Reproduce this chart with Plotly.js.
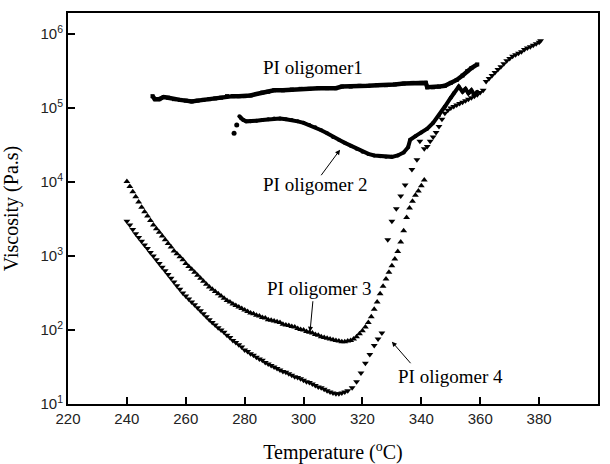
<!DOCTYPE html>
<html>
<head>
<meta charset="utf-8">
<script src="https://cdn.plot.ly/plotly-3.0.1.min.js"></script>
<style>html,body{margin:0;padding:0;background:#fff;}#chart{width:610px;height:464px;}.modebar-container{visibility:hidden !important;}</style>
</head>
<body>
<div id="chart"></div>
<script>
// PI oligomer 1 (squares)
const t1 = [248.7,249.5,251,252.5,254,256,258,260,262,264,266,268,270,272,274,276,278,280,282,284,286,288,290,293,296,299,302,305,308,311,313,316,319,322,325,328,331,334,337,340,341.5,342,344,346,348,350,352,354,355.6,357,359];
const v1 = [145000,132000,132000,141000,138000,132000,129000,126000,123000,126000,129000,132000,135000,138000,145000,145000,145000,145000,148000,155000,162000,166000,174000,174000,178000,182000,182000,186000,186000,186000,195000,195000,200000,200000,204000,204000,209000,214000,219000,219000,219000,191000,191000,195000,200000,219000,240000,275000,316000,347000,389000];

// PI oligomer 2 (circles)
const t2 = [276.4,277.3,278.2,278.8,279.5,280.5,282,284,286,288,290,292,294,296,298,300,302,304,306,308,310,312,314,316,318,320,322,324,326,328,330,332,334,335.5,336.2,338,340,342,344,346,348,350,351,352.7,354,355,356,357,358,359];
const v2 = [45700,58900,77600,72400,69200,66100,66100,67600,69200,70800,72400,72400,70800,69200,66100,63100,58900,55000,50100,45700,40700,37200,33900,30900,28200,25700,24000,22900,22400,21900,21900,22900,25100,29500,37200,41700,46800,52500,63100,79400,105000,138000,158000,195000,166000,182000,158000,174000,151000,166000];

// PI oligomer 3 (up triangles)
const t3 = [240,241,242,243,244,245,246,247,248,249,250,251,252,253,254,255,256,257,258,259,260,261,262,263,264,265,266,267,268,269,270,271,272,273,274,275,276,277,278,279,280,281,282,283,284,285,286,287,288,289,290,291,292,293,294,295,296,297,298,299,300,301,302,303,304,305,306,307,308,309,310,311,312,313,314,315,316,317,318,319,320,321,322,323,324,325,326,327,328,329,330,331,332,333,334,335,336,337,338,339,340,341];
const v3 = [10200,8710,7410,6310,5370,4570,3980,3470,3020,2630,2340,2090,1860,1660,1480,1320,1170,1070,977,891,794,724,661,603,550,501,457,417,380,355,331,309,288,269,251,240,224,214,204,195,186,178,170,166,158,155,148,145,138,135,132,129,126,120,117,115,112,110,105,102,100,95.5,93.3,91.2,87.1,85.1,81.3,79.4,77.6,75.9,74.1,72.4,70.8,69.2,69.2,70.8,72.4,75.9,81.3,89.1,97.7,110,126,151,191,240,309,389,490,603,741,912,1150,1550,2190,3310,4470,5500,6610,7590,8910,10700];

// PI oligomer 4 (down triangles)
const t4 = [240,241,242,243,244,245,246,247,248,249,250,251,252,253,254,255,256,257,258,259,260,261,262,263,264,265,266,267,268,269,270,271,272,273,274,275,276,277,278,279,280,281,282,283,284,285,286,287,288,289,290,291,292,293,294,295,296,297,298,299,300,301,302,303,304,305,306,307,308,309,310,311,312,313,314,315,316.5,318,319.5,321,322.5,324,325.3,326.6,328.6,330,331.5,333,334.5,336.8,338.5,339.5,341,342,343,344,345,346,347,348,349,350,351,352,353,354,355,356,357,358,359,360,361,362,363,364,365,366,367,368,369,370,371,372,373,374,375,376,377,378,379,380,380.5];
const v4 = [2950,2630,2290,2000,1780,1580,1410,1260,1120,1000,891,794,708,631,562,501,447,398,355,316,288,263,240,219,200,182,166,151,138,126,117,107,100,93.3,85.1,79.4,72.4,67.6,63.1,58.9,53.7,51.3,47.9,45.7,42.7,40.7,38.9,36.3,34.7,33.1,31.6,30.2,28.8,27.5,26.9,25.7,24.5,23.4,22.9,21.9,20.9,20.0,19.5,18.6,17.8,17.0,16.6,15.8,15.1,14.5,14.1,13.8,13.8,14.1,14.5,15.1,16.6,20.0,26.3,35.5,46.8,61.7,75.9,91.2,1660,2950,4370,6460,9120,14800,20000,35500,28200,30200,35500,40700,46800,56200,70800,85100,93300,100000,105000,110000,115000,120000,126000,132000,138000,145000,151000,162000,174000,229000,251000,275000,302000,331000,363000,398000,437000,468000,501000,525000,550000,575000,617000,646000,676000,708000,741000,776000,813000];

// axis ticks
const xTicks = [220,240,260,280,300,320,340,360,380,400];
const xMinorTicks = [230,250,270,290,310,330,350,370,390];
const yTicks = [10,100,1000,10000,100000,1000000];
const yTickText = ['10<sup>1</sup>','10<sup>2</sup>','10<sup>3</sup>','10<sup>4</sup>','10<sup>5</sup>','10<sup>6</sup>'];
const yMinorTicks = [20,30,40,50,60,70,80,90,200,300,400,500,600,700,800,900,2000,3000,4000,5000,6000,7000,8000,9000,20000,30000,40000,50000,60000,70000,80000,90000,200000,300000,400000,500000,600000,700000,800000,900000,2000000,3000000,4000000,5000000,6000000,7000000,8000000,9000000];

const serif = 'Liberation Serif, Times New Roman, serif';
const sans = 'Liberation Sans, Arial, sans-serif';

const traces = [
  {x: t1, y: v1, mode: 'lines+markers', line: {color: '#000', width: 4.5},
   marker: {symbol: 'square', size: 4, color: '#000'}, name: 'PI oligomer1', showlegend: false},
  {x: t2.slice(0, 2), y: v2.slice(0, 2), mode: 'markers',
   marker: {symbol: 'circle', size: 5, color: '#000'}, name: 'PI oligomer 2', showlegend: false},
  {x: t2.slice(2), y: v2.slice(2), mode: 'lines+markers', line: {color: '#000', width: 4},
   marker: {symbol: 'circle', size: 4, color: '#000'}, name: 'PI oligomer 2', showlegend: false},
  {x: t3, y: v3, mode: 'markers', marker: {symbol: 'triangle-up', size: 6, color: '#000'}, name: 'PI oligomer 3', showlegend: false},
  {x: t4, y: v4, mode: 'markers', marker: {symbol: 'triangle-down', size: 6, color: '#000'}, name: 'PI oligomer 4', showlegend: false}
];

const annFont = {family: serif, size: 19, color: '#000'};
const yRange = [1, 6.285];
const layout = {
  width: 610, height: 464,
  margin: {l: 68, r: 12, t: 13, b: 60},
  xaxis: {
    range: [220, 400], tickvals: xTicks, ticktext: xTicks.map(String),
    ticks: 'inside', ticklen: 7, tickwidth: 2, tickcolor: '#000',
    showline: true, linecolor: '#000', linewidth: 2, mirror: true,
    showgrid: false, zeroline: false,
    tickfont: {family: sans, size: 15, color: '#222'},
    title: {text: 'Temperature (<sup>o</sup>C)', font: {family: serif, size: 20, color: '#000'}}
  },
  xaxis2: {
    overlaying: 'x', anchor: 'y', side: 'bottom', range: [220, 400],
    tickvals: xMinorTicks, ticks: 'inside', ticklen: 4, tickwidth: 2, tickcolor: '#000',
    showticklabels: false, showline: false, showgrid: false, zeroline: false
  },
  yaxis: {
    type: 'log', range: yRange, tickvals: yTicks, ticktext: yTickText,
    ticks: 'inside', ticklen: 7, tickwidth: 2, tickcolor: '#000',
    showline: true, linecolor: '#000', linewidth: 2, mirror: true,
    showgrid: false, zeroline: false,
    tickfont: {family: sans, size: 15, color: '#222'},
    title: {text: 'Viscosity (Pa.s)', font: {family: serif, size: 20, color: '#000'}}
  },
  yaxis2: {
    type: 'log', overlaying: 'y', anchor: 'x', side: 'left', range: yRange,
    tickvals: yMinorTicks, ticks: 'inside', ticklen: 4, tickwidth: 1.5, tickcolor: '#000',
    showticklabels: false, showline: false, showgrid: false, zeroline: false
  }
};

const annotations = [
  {x: 303.1, y: 5.545, text: 'PI oligomer1', showarrow: false, font: annFont, xanchor: 'center', yanchor: 'middle'},
  {x: 303.9, y: 3.963, text: 'PI oligomer 2', showarrow: false, font: annFont, xanchor: 'center', yanchor: 'middle'},
  {x: 305.4, y: 2.562, text: 'PI oligomer 3', showarrow: false, font: annFont, xanchor: 'center', yanchor: 'middle'},
  {x: 349.8, y: 1.369, text: 'PI oligomer 4', showarrow: false, font: annFont, xanchor: 'center', yanchor: 'middle'},
  {x: 312.4, y: 4.437, text: '', showarrow: true, arrowhead: 2, arrowsize: 1, arrowwidth: 1, arrowcolor: '#000', ax: -20, ay: 27},
  {x: 302.2, y: 1.977, text: '', showarrow: true, arrowhead: 2, arrowsize: 1, arrowwidth: 1, arrowcolor: '#000', ax: 3, ay: -32},
  {x: 330.0, y: 1.842, text: '', showarrow: true, arrowhead: 2, arrowsize: 1, arrowwidth: 1, arrowcolor: '#000', ax: 20, ay: 23}
];

Plotly.newPlot('chart', traces, layout).then(function (gd) {
  return Plotly.relayout(gd, {annotations: annotations});
});
</script>
</body>
</html>
